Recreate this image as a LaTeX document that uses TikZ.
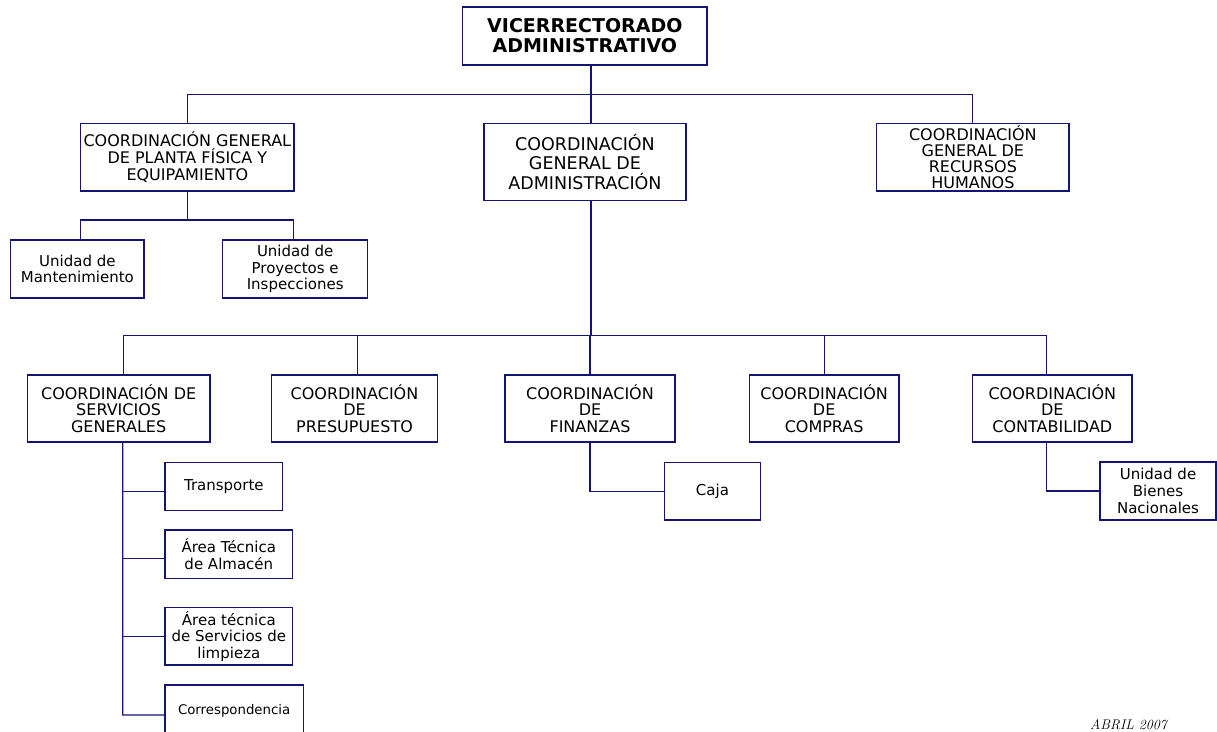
\documentclass[tikz,border=0pt]{standalone}
\usepackage{fontspec}
\newfontfamily\vf{DejaVu Sans}
\definecolor{navy}{RGB}{20,20,115}
\begin{document}
\begin{tikzpicture}[x=1pt,y=-1pt,
  box/.style={draw=navy,line width=1.2pt,inner sep=0pt,align=center,
    font=\vf\fontsize{16}{16.8}\selectfont},
  lbox/.style={box,font=\vf\fontsize{15}{16.7}\selectfont},
  conn/.style={draw=navy,line width=1.2pt}]
\useasboundingbox (0,0) rectangle (1217,731);
\clip (0,0) rectangle (1217,731);

\node[box,font=\vf\bfseries\fontsize{19}{20}\selectfont,minimum width=244.3,minimum height=58] (top) at (584.85,36) {VICERRECTORADO\\ADMINISTRATIVO};

\node[box,minimum width=213.3,minimum height=67.7] (pf) at (187.35,157.15) {COORDINACIÓN GENERAL\\DE PLANTA FÍSICA Y\\EQUIPAMIENTO};
\node[box,font=\vf\fontsize{17.5}{19.7}\selectfont,minimum width=202,minimum height=77.4] (adm) at (585,162) {COORDINACIÓN\\GENERAL DE\\ADMINISTRACIÓN};
\node[box,font=\vf\fontsize{16}{16.2}\selectfont,minimum width=192.3,minimum height=67.7] (rh) at (972.85,157.15) {COORDINACIÓN\\GENERAL DE\\RECURSOS\\HUMANOS};

\node[lbox,minimum width=133.3,minimum height=58] (mant) at (77.35,269) {Unidad de\\Mantenimiento};
\node[lbox,minimum width=145,minimum height=58] (proy) at (295.2,269) {Unidad de\\Proyectos e\\Inspecciones};

\node[box,minimum width=182.7,minimum height=67] (sg) at (118.65,408.5) {COORDINACIÓN DE\\SERVICIOS\\GENERALES};
\node[box,minimum width=165.6,minimum height=67] (pres) at (354.5,408.5) {COORDINACIÓN\\DE\\PRESUPUESTO};
\node[box,minimum width=170,minimum height=67] (fin) at (590,408.5) {COORDINACIÓN\\DE\\FINANZAS};
\node[box,minimum width=149.7,minimum height=67] (comp) at (824.15,408.5) {COORDINACIÓN\\DE\\COMPRAS};
\node[box,minimum width=159.3,minimum height=67] (cont) at (1052.35,408.5) {COORDINACIÓN\\DE\\CONTABILIDAD};

\node[lbox,minimum width=96.4,minimum height=57.7] (caja) at (712.5,491.15) {Caja};
\node[lbox,minimum width=116,minimum height=58] (bn) at (1158,491) {Unidad de\\Bienes\\Nacionales};

\node[lbox,minimum width=117.7,minimum height=48] (trans) at (223.85,486.7) {Transporte};
\node[lbox,minimum width=127.7,minimum height=48.3] (alm) at (228.85,554.15) {Área Técnica\\de Almacén};
\node[lbox,minimum width=127.7,minimum height=57.3] (limp) at (228.85,636.35) {Área técnica\\de Servicios de\\limpieza};
\node[lbox,font=\vf\fontsize{13.3}{15}\selectfont,minimum width=138.3,minimum height=52] (corr) at (234.15,711) {Correspondencia};

\node[anchor=base west,inner sep=0pt,font=\itshape\fontsize{14}{16}\selectfont] (date) at (1090,729) {ABRIL 2007};

% connectors
\coordinate (b1) at (591,94.3);
\draw[conn] (top.south -| b1) -- (adm.north -| b1);
\draw[conn] (pf.north) |- (b1) -| (rh.north);

\coordinate (b2) at (187,220);
\draw[conn] (pf.south) -- (pf.south |- b2);
\draw[conn] ([xshift=3.3pt]mant.north) |- (b2) -| ([xshift=-1.9pt]proy.north);

\coordinate (b3) at (591,335.7);
\draw[conn] (adm.south -| b3) -- (b3);
\draw[conn] ([xshift=4.65pt]sg.north) |- (b3) -| ([xshift=-5.65pt]cont.north);
\draw[conn] ([xshift=2.8pt]pres.north) -- ([xshift=2.8pt]pres.north |- b3);
\draw[conn] (fin.north) -- (fin.north |- b3);
\draw[conn] (comp.north) -- (comp.north |- b3);

\draw[conn] (fin.south) |- (caja.west);
\draw[conn] ([xshift=-5.65pt]cont.south) |- (bn.west);

\coordinate (st) at (122.7,715);
\draw[conn] ([xshift=4pt]sg.south) -- (st) -- ([yshift=-4pt]corr.west);
\draw[conn] ([yshift=-5pt]trans.west) -- ([yshift=-5pt]trans.west -| st);
\draw[conn] ([yshift=-4.15pt]alm.west) -- ([yshift=-4.15pt]alm.west -| st);
\draw[conn] (limp.west) -- (limp.west -| st);
\end{tikzpicture}
\end{document}
